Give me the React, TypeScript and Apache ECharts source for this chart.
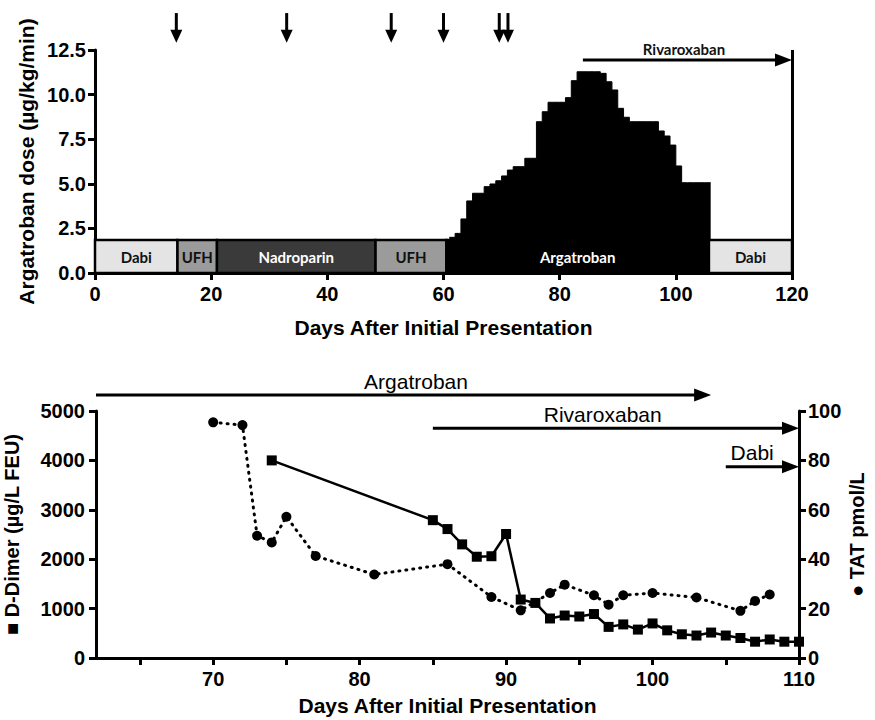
import React, { useEffect, useRef } from 'react';
import * as echarts from 'echarts';

const FONT = '"Liberation Sans", Arial, Helvetica, sans-serif';
const BAND_FONT = 'Lato, "Open Sans", sans-serif';

// ---------- Top panel: argatroban dose ----------
const argatrobanDays = [61, 62, 63, 64, 65, 66, 67, 68, 69, 70, 71, 72, 73, 74, 75, 76, 77, 78, 79, 80,
  81, 82, 83, 84, 85, 86, 87, 88, 89, 90, 91, 92, 93, 94, 95, 96, 97, 98, 99, 100,
  101, 102, 103, 104, 105, 106];
const argatrobanDose = [2.0, 2.22, 3.03, 4.04, 4.47, 4.47, 4.84, 4.99, 5.17, 5.44, 5.77, 5.96, 5.96, 6.43, 6.43, 8.48, 9.04, 9.57, 9.57, 9.57,
  9.83, 10.78, 11.28, 11.28, 11.28, 11.28, 11.19, 10.72, 10.26, 9.23, 8.73, 8.48, 8.48, 8.48, 8.48, 8.48, 7.96, 7.68, 7.17, 6.0,
  5.06, 5.06, 5.06, 5.06, 5.06, 5.06];

const bandNames = ['Dabi', 'UFH', 'Nadroparin', 'UFH', 'Argatroban', 'Dabi'];
const bandStarts = [0, 14.2, 21, 48.3, 60.5, 105.7];
const bandEnds = [14.2, 21, 48.3, 60.5, 105.7, 120];
const BAND_TOP = 1.85;

const eventDays = [14, 33, 51, 60, 69.6, 71.1];
const EVENT_ARROW_TOP = 14.57;
const EVENT_ARROW_TIP = 12.9;

const topTherapyNames = ['Rivaroxaban'];
const topTherapyStart = [84];
const topTherapyEnd = [120];
const topTherapyLevel = [11.94];
const topTherapyLabelDay = [101.4];
const topTherapyLabelLevel = [12.56];
const topEndDay = 120;

const topXTicks = [0, 20, 40, 60, 80, 100, 120];
const topYTicks = [0, 2.5, 5, 7.5, 10, 12.5];

// ---------- Bottom panel: D-Dimer and TAT ----------
const dDimerDays = [74, 85, 86, 87, 88, 89, 90, 91, 92, 93, 94, 95, 96, 97, 98, 99, 100, 101, 102, 103, 104, 105, 106, 107, 108, 109, 110];
const dDimerValues = [4000, 2790, 2610, 2300, 2050, 2060, 2510, 1183, 1115, 800, 860, 840, 890, 630, 680, 575, 700, 560, 480, 455, 515, 455, 405, 330, 375, 330, 330];

const tatDays = [70, 72, 73, 74, 75, 77, 81, 86, 89, 91, 93, 94, 96, 97, 98, 100, 103, 106, 107, 108];
const tatValues = [95.4, 94.3, 49.5, 46.8, 57.2, 41.3, 33.8, 38.0, 24.7, 19.3, 26.3, 29.7, 25.4, 21.6, 25.4, 26.3, 24.5, 19.1, 23.1, 25.7];

const bottomTherapyNames = ['Argatroban', 'Rivaroxaban', 'Dabi'];
const bottomTherapyStart = [62, 85, 105];
const bottomTherapyEnd = [104, 110, 110];
const bottomTherapyLevel = [5325, 4650, 3872];
const bottomTherapyLabelDay = [83.85, 96.6, 106.8];
const bottomTherapyLabelLevel = [5595, 4920, 4170];

const bottomXTicks = [65, 70, 75, 80, 85, 90, 95, 100, 105, 110];
const bottomXLabels = [70, 80, 90, 100, 110];

// ---------- styles ----------
const bandFill: Record<string, string> = { Dabi: '#e4e4e4', UFH: '#9b9b9b', Nadroparin: '#3a3a3a', Argatroban: '#000000' };
const bandText: Record<string, string> = { Dabi: '#111111', UFH: '#111111', Nadroparin: '#ffffff', Argatroban: '#ffffff' };

function arrowShape(api: any, x1: number, y1: number, x2: number, y2: number, headLen: number, headW: number, lw: number) {
  const p1 = api.coord([x1, y1]);
  const p2 = api.coord([x2, y2]);
  const dx = p2[0] - p1[0];
  const dy = p2[1] - p1[1];
  const L = Math.hypot(dx, dy) || 1;
  const ux = dx / L, uy = dy / L;
  const px = -uy, py = ux;
  const bx = p2[0] - ux * headLen, by = p2[1] - uy * headLen;
  return {
    type: 'group',
    children: [
      { type: 'line', shape: { x1: p1[0], y1: p1[1], x2: bx + ux, y2: by + uy }, style: { stroke: '#000', lineWidth: lw } },
      {
        type: 'polygon',
        shape: { points: [[p2[0], p2[1]], [bx + px * headW / 2, by + py * headW / 2], [bx - px * headW / 2, by - py * headW / 2]] },
        style: { fill: '#000' },
      },
    ],
  };
}

const axisLine = { show: true, lineStyle: { color: '#000', width: 3 } };
const axisTick = { show: true, inside: false, length: 7, lineStyle: { color: '#000', width: 3 } };
const tickLabel = { color: '#000', fontFamily: FONT, fontWeight: 'bold' as const, fontSize: 20 };
const nameStyle = { color: '#000', fontFamily: FONT, fontWeight: 'bold' as const, fontSize: 21 };

export default function App() {
  const ref = useRef<HTMLDivElement>(null);
  useEffect(() => {
    if (!ref.current) return;
    const chart = echarts.init(ref.current, undefined, { renderer: 'svg' });

    const option: any = {
      animation: false,
      backgroundColor: '#fff',
      textStyle: { fontFamily: FONT },
      grid: [
        { left: 95, top: 50, width: 697, height: 223, outerBoundsMode: 'none', containLabel: false },
        { left: 96, top: 411, width: 703, height: 247, outerBoundsMode: 'none', containLabel: false },
      ],
      xAxis: [
        {
          gridIndex: 0, type: 'value', min: topXTicks[0], max: topXTicks[topXTicks.length - 1], interval: 20,
          axisLine, axisTick, splitLine: { show: false },
          axisLabel: { ...tickLabel, margin: 11, formatter: (v: number) => String(v) },
          name: 'Days After Initial Presentation', nameLocation: 'middle', nameGap: 44, nameTextStyle: nameStyle,
          nameMoveOverlap: false,
        },
        {
          gridIndex: 1, type: 'value', min: 62, max: 110,
          axisLine,
          axisTick: { ...axisTick, customValues: bottomXTicks },
          splitLine: { show: false },
          axisLabel: { ...tickLabel, margin: 11, customValues: bottomXLabels, formatter: (v: number) => String(v) },
          name: 'Days After Initial Presentation', nameLocation: 'middle', nameGap: 37, nameTextStyle: nameStyle,
          nameMoveOverlap: false,
        },
      ],
      yAxis: [
        {
          gridIndex: 0, type: 'value', min: topYTicks[0], max: topYTicks[topYTicks.length - 1], interval: 2.5,
          axisLine, axisTick, splitLine: { show: false },
          axisLabel: { ...tickLabel, margin: 9, formatter: (v: number) => v.toFixed(1) },
          name: 'Argatroban dose (µg/kg/min)', nameLocation: 'middle', nameGap: 58, nameTextStyle: nameStyle,
          nameMoveOverlap: false,
        },
        {
          gridIndex: 1, type: 'value', min: 0, max: 5000, interval: 1000, position: 'left',
          axisLine, axisTick, splitLine: { show: false },
          axisLabel: { ...tickLabel, margin: 11, formatter: (v: number) => String(v) },
          name: '■ D-Dimer (µg/L FEU)', nameLocation: 'middle', nameGap: 74, nameTextStyle: { ...nameStyle, fontSize: 20 },
          nameMoveOverlap: false,
        },
        {
          gridIndex: 1, type: 'value', min: 0, max: 100, interval: 20, position: 'right',
          axisLine, axisTick, splitLine: { show: false },
          axisLabel: { ...tickLabel, margin: 9, formatter: (v: number) => String(v) },
          name: '● TAT pmol/L', nameLocation: 'middle', nameGap: 48, nameRotate: 90, nameTextStyle: { ...nameStyle, fontSize: 20 },
          nameMoveOverlap: false,
        },
      ],
      series: [
        {
          type: 'line', xAxisIndex: 0, yAxisIndex: 0, step: 'end', z: 2,
          data: argatrobanDays.map((d, i) => [d, argatrobanDose[i]]),
          symbol: 'none', lineStyle: { color: '#000', width: 1 },
          areaStyle: { color: '#000', opacity: 1 },
          silent: true,
          markLine: {
            silent: true, symbol: ['none', 'none'], label: { show: false },
            lineStyle: { color: '#000', width: 3, type: 'solid' },
            data: [{ xAxis: topEndDay }],
          },
        },
        {
          type: 'custom', xAxisIndex: 0, yAxisIndex: 0, z: 5, silent: true,
          data: bandStarts.map((s, i) => [s, bandEnds[i], BAND_TOP]),
          encode: { x: [0, 1], y: 2 },
          renderItem: (params: any, api: any) => {
            const i = params.dataIndex;
            const name = bandNames[i];
            const p0 = api.coord([api.value(0), api.value(2)]);
            const p1 = api.coord([api.value(1), 0]);
            return {
              type: 'group',
              children: [
                {
                  type: 'rect',
                  shape: { x: p0[0], y: p0[1], width: p1[0] - p0[0], height: p1[1] - p0[1] },
                  style: { fill: bandFill[name], stroke: '#000', lineWidth: 2.5 },
                },
                {
                  type: 'text',
                  x: (p0[0] + p1[0]) / 2, y: (p0[1] + p1[1]) / 2 + 1,
                  style: { text: name, fill: bandText[name], fontFamily: BAND_FONT, fontWeight: 'bold', fontSize: 15, align: 'center', verticalAlign: 'middle' },
                },
              ],
            };
          },
        },
        {
          type: 'custom', xAxisIndex: 0, yAxisIndex: 0, z: 6, silent: true,
          data: eventDays.map((d) => [d, EVENT_ARROW_TOP, d, EVENT_ARROW_TIP]),
          encode: { x: [0, 2], y: [1, 3] },
          renderItem: (params: any, api: any) =>
            arrowShape(api, api.value(0), api.value(1), api.value(2), api.value(3), 13, 12, 3),
        },
        {
          type: 'custom', xAxisIndex: 0, yAxisIndex: 0, z: 6, silent: true,
          data: topTherapyStart.map((s, i) => [s, topTherapyLevel[i], topTherapyEnd[i], topTherapyLevel[i], topTherapyLabelDay[i], topTherapyLabelLevel[i]]),
          encode: { x: [0, 2], y: [1, 3] },
          renderItem: (params: any, api: any) => {
            const i = params.dataIndex;
            const arrow: any = arrowShape(api, api.value(0), api.value(1), api.value(2), api.value(3), 17, 13, 3);
            const lp = api.coord([api.value(4), api.value(5)]);
            arrow.children.push({
              type: 'text', x: lp[0], y: lp[1],
              style: { text: topTherapyNames[i], fill: '#111', fontFamily: BAND_FONT, fontWeight: 'bold', fontSize: 15, align: 'center', verticalAlign: 'middle' },
            });
            return arrow;
          },
        },
        {
          name: 'D-Dimer', type: 'line', xAxisIndex: 1, yAxisIndex: 1, z: 4,
          data: dDimerDays.map((d, i) => [d, dDimerValues[i]]),
          symbol: 'rect', symbolSize: 10,
          itemStyle: { color: '#000' },
          lineStyle: { color: '#000', width: 2.5 },
        },
        {
          name: 'TAT', type: 'line', xAxisIndex: 1, yAxisIndex: 2, z: 3,
          data: tatDays.map((d, i) => [d, tatValues[i]]),
          symbol: 'circle', symbolSize: 10,
          itemStyle: { color: '#000' },
          lineStyle: { color: '#000', width: 3, type: [1, 6], cap: 'round' },
        },
        {
          type: 'custom', xAxisIndex: 1, yAxisIndex: 1, z: 6, silent: true,
          data: bottomTherapyStart.map((s, i) => [s, bottomTherapyLevel[i], bottomTherapyEnd[i], bottomTherapyLevel[i], bottomTherapyLabelDay[i], bottomTherapyLabelLevel[i]]),
          encode: { x: [0, 2], y: [1, 3] },
          renderItem: (params: any, api: any) => {
            const i = params.dataIndex;
            const arrow: any = arrowShape(api, api.value(0), api.value(1), api.value(2), api.value(3), 17, 13, 3);
            const lp = api.coord([api.value(4), api.value(5)]);
            arrow.children.push({
              type: 'text', x: lp[0], y: lp[1],
              style: { text: bottomTherapyNames[i], fill: '#000', fontFamily: FONT, fontWeight: 'normal', fontSize: 21, align: 'center', verticalAlign: 'middle' },
            });
            return arrow;
          },
        },
      ],
    };

    chart.setOption(option);
    return () => chart.dispose();
  }, []);

  return <div ref={ref} style={{ position: 'fixed', left: 0, top: 0, width: 875, height: 720, background: '#fff' }} />;
}
